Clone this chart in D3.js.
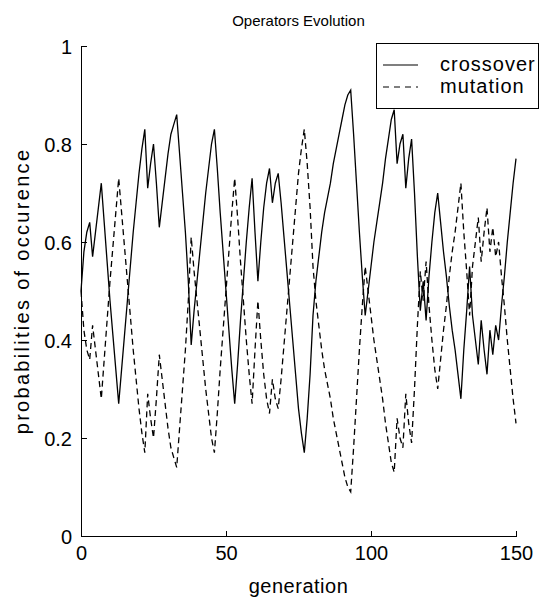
<!DOCTYPE html>
<html>
<head>
<meta charset="utf-8">
<script src="https://cdn.jsdelivr.net/npm/d3@7"></script>
<style>
	body { margin: 0; background: #fff; }
	svg { display: block; font-family: 'Liberation Sans', Arial, sans-serif; }
	.axis path, .axis line { stroke: #000; shape-rendering: crispEdges; }
	.axis text { fill: #000; font-size: 20px; font-family: 'Liberation Sans', Arial, sans-serif; }
</style>
</head>
<body>
<div id="graphic"></div>
<script>
// values, one per generation (0..150)
var crossover = [
	0.50, 0.58, 0.62, 0.64, 0.57, 0.62, 0.67, 0.72, 0.64, 0.56,
	0.48, 0.41, 0.34, 0.27, 0.34, 0.41, 0.48, 0.55, 0.62, 0.68,
	0.74, 0.79, 0.83, 0.71, 0.76, 0.80, 0.72, 0.63, 0.68, 0.73,
	0.78, 0.82, 0.84, 0.86, 0.78, 0.70, 0.62, 0.52, 0.39, 0.46,
	0.52, 0.58, 0.64, 0.70, 0.75, 0.80, 0.83, 0.75, 0.66, 0.58,
	0.50, 0.42, 0.34, 0.27, 0.35, 0.44, 0.52, 0.60, 0.67, 0.73,
	0.62, 0.52, 0.60, 0.67, 0.72, 0.75, 0.68, 0.72, 0.74, 0.68,
	0.61, 0.54, 0.47, 0.40, 0.33, 0.26, 0.21, 0.17, 0.24, 0.33,
	0.45, 0.52, 0.57, 0.62, 0.66, 0.69, 0.72, 0.76, 0.79, 0.82,
	0.85, 0.88, 0.90, 0.91, 0.82, 0.72, 0.62, 0.53, 0.45, 0.50,
	0.55, 0.60, 0.64, 0.68, 0.72, 0.77, 0.81, 0.85, 0.87, 0.76,
	0.80, 0.82, 0.71, 0.77, 0.81, 0.70, 0.57, 0.46, 0.52, 0.44,
	0.53, 0.60, 0.66, 0.70, 0.64, 0.58, 0.53, 0.47, 0.42, 0.38,
	0.33, 0.28, 0.38, 0.46, 0.55, 0.45, 0.40, 0.35, 0.44, 0.38,
	0.33, 0.42, 0.37, 0.43, 0.40, 0.47, 0.53, 0.60, 0.66, 0.72,
	0.77
];

var mutation = [
	0.50, 0.42, 0.38, 0.36, 0.43, 0.38, 0.33, 0.28, 0.36, 0.44,
	0.52, 0.59, 0.66, 0.73, 0.66, 0.59, 0.52, 0.45, 0.38, 0.32,
	0.26, 0.21, 0.17, 0.29, 0.24, 0.20, 0.28, 0.37, 0.32, 0.27,
	0.22, 0.18, 0.16, 0.14, 0.22, 0.30, 0.38, 0.48, 0.61, 0.54,
	0.48, 0.42, 0.36, 0.30, 0.25, 0.20, 0.17, 0.25, 0.34, 0.42,
	0.50, 0.58, 0.66, 0.73, 0.65, 0.56, 0.48, 0.40, 0.33, 0.27,
	0.38, 0.48, 0.40, 0.33, 0.28, 0.25, 0.32, 0.28, 0.26, 0.32,
	0.39, 0.46, 0.53, 0.60, 0.67, 0.74, 0.79, 0.83, 0.76, 0.67,
	0.55, 0.48, 0.43, 0.38, 0.34, 0.31, 0.28, 0.24, 0.21, 0.18,
	0.15, 0.12, 0.10, 0.09, 0.18, 0.28, 0.38, 0.47, 0.55, 0.50,
	0.45, 0.40, 0.36, 0.32, 0.28, 0.23, 0.19, 0.15, 0.13, 0.24,
	0.20, 0.18, 0.29, 0.23, 0.19, 0.30, 0.43, 0.54, 0.48, 0.56,
	0.47, 0.40, 0.34, 0.30, 0.36, 0.42, 0.47, 0.53, 0.58, 0.62,
	0.67, 0.72, 0.62, 0.54, 0.45, 0.55, 0.60, 0.65, 0.56, 0.62,
	0.67, 0.58, 0.63, 0.57, 0.60, 0.53, 0.47, 0.40, 0.34, 0.28,
	0.23
];

var seriesNames = ['crossover', 'mutation'];
var xTicks = [0, 50, 100, 150];
var yTicks = [0, 0.2, 0.4, 0.6, 0.8, 1];

var margin = { top: 46, right: 24, bottom: 64, left: 81 };
var width = 540 - margin.left - margin.right;
var height = 600 - margin.top - margin.bottom;

var svg = d3.select('#graphic')
	.append('svg')
	.attr('width', 540)
	.attr('height', 600)
	.style('background-color', '#fff');

var g = svg.append('g')
	.attr('transform', 'translate(' + margin.left + ',' + margin.top + ')');

var x = d3.scaleLinear().domain([0, 150]).range([0, width]);
var y = d3.scaleLinear().domain([0, 1]).range([height, 0]);

// axes, ticks pointing inwards like matlab
g.append('g')
	.attr('class', 'x axis')
	.attr('transform', 'translate(0,' + height + ')')
	.call(d3.axisBottom(x).tickValues(xTicks).tickSize(-5).tickSizeOuter(0).tickPadding(10).tickFormat(d3.format('d')));

g.append('g')
	.attr('class', 'y axis')
	.call(d3.axisLeft(y).tickValues(yTicks).tickSize(-6).tickSizeOuter(0).tickPadding(9).tickFormat(function (d) { return d3.format('~g')(d); }));

g.selectAll('.y.axis text').attr('dy', '0.35em');

// lines
var line = d3.line()
	.x(function (d, i) { return x(i); })
	.y(function (d) { return y(d); });

g.append('path')
	.datum(crossover)
	.attr('fill', 'none')
	.attr('stroke', '#000')
	.attr('stroke-width', 1.3)
	.attr('d', line);

g.append('path')
	.datum(mutation)
	.attr('fill', 'none')
	.attr('stroke', '#000')
	.attr('stroke-width', 1.3)
	.attr('stroke-dasharray', '6,4')
	.attr('d', line);

// title and axis labels
svg.append('text')
	.attr('x', margin.left + width / 2)
	.attr('y', 26)
	.attr('text-anchor', 'middle')
	.style('font-size', '15px')
	.text('Operators Evolution');

svg.append('text')
	.attr('x', margin.left + width / 2)
	.attr('y', 593)
	.attr('text-anchor', 'middle')
	.style('font-size', '20px')
	.style('letter-spacing', '0.5px')
	.text('generation');

svg.append('text')
	.attr('transform', 'translate(29,' + (margin.top + height / 2) + ') rotate(-90)')
	.attr('text-anchor', 'middle')
	.style('font-size', '20px')
	.style('letter-spacing', '2.3px')
	.text('probabilities of occurence');

// legend
var legend = svg.append('g').attr('class', 'legend');

legend.append('rect')
	.attr('x', 376.5)
	.attr('y', 43.5)
	.attr('width', 162)
	.attr('height', 65)
	.attr('fill', '#fff')
	.attr('stroke', '#000')
	.attr('stroke-width', 1)
	.style('shape-rendering', 'crispEdges');

var item = legend.selectAll('g.item')
	.data(seriesNames)
	.join('g')
	.attr('class', 'item')
	.attr('transform', function (d, i) { return 'translate(0,' + (65 + i * 22) + ')'; });

item.append('line')
	.attr('x1', 383)
	.attr('x2', 418)
	.attr('stroke', '#000')
	.attr('stroke-width', 1.2)
	.attr('stroke-dasharray', function (d, i) { return i == 1 ? '6,5' : null; });

item.append('text')
	.attr('x', 440)
	.attr('dy', '0.32em')
	.style('font-size', '20px')
	.style('letter-spacing', '1px')
	.text(function (d) { return d; });
</script>
</body>
</html>
